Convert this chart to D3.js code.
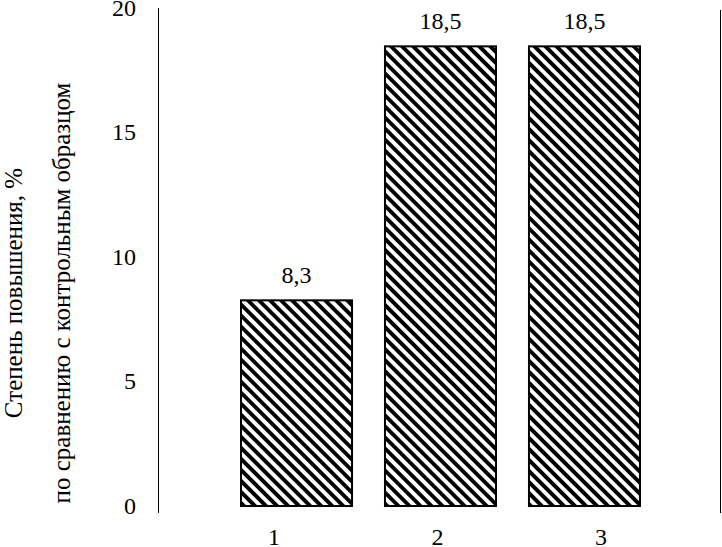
<!DOCTYPE html>
<html><head><meta charset="utf-8">
<script src="https://cdn.jsdelivr.net/npm/d3@7"></script>
</head><body style="margin:0;background:#fff">
<script>
const categories = ["1","2","3"];
const values = [8.3, 18.5, 18.5];
const valueLabels = ["8,3","18,5","18,5"];
const yTicks = [0,5,10,15,20];

const W=722,H=547;
const svg=d3.select("body").append("svg").attr("width",W).attr("height",H).style("display","block")
  .attr("font-family","Liberation Serif").style("font-family","'Liberation Serif', 'Times New Roman', serif");
const defs=svg.append("defs");
const pat=defs.append("pattern").attr("id","hatch").attr("patternUnits","userSpaceOnUse")
  .attr("width",7.8).attr("height",20).attr("patternTransform","rotate(-45)");
pat.append("rect").attr("width",7.8).attr("height",20).attr("fill","#fff");
pat.append("rect").attr("width",3.9).attr("height",20).attr("fill","#000");

const y=d3.scaleLinear().domain([0,20]).range([506,8]);
const x=d3.scaleBand().domain(categories).range([240,641]).paddingInner(0.215).paddingOuter(0);
const xl=d3.scalePoint().domain(categories).range([274,601]);

svg.append("line").attr("x1",158.5).attr("x2",158.5).attr("y1",8).attr("y2",513).attr("stroke","#000").attr("stroke-width",1);
svg.append("line").attr("x1",720.5).attr("x2",720.5).attr("y1",10).attr("y2",513).attr("stroke","#000").attr("stroke-width",1);

function serif(sel,size){
  return sel.attr("font-family","Liberation Serif").attr("font-size",size)
    .style("font-family","'Liberation Serif', 'Times New Roman', serif").style("font-size",size+"px");
}

const yAxis=d3.axisLeft(y).tickValues(yTicks).tickSize(0).tickPadding(0).tickFormat(d3.format("d"));
const ga=svg.append("g").attr("transform","translate(136,0)").call(yAxis);
ga.attr("font-family","Liberation Serif").attr("font-size",24);
ga.select(".domain").remove();
serif(ga.selectAll("text"),24).attr("fill","#000").attr("dy","0.3em");

svg.selectAll("rect.bar").data(values).join("rect").attr("class","bar")
  .attr("x",(d,i)=>x(categories[i])+1).attr("width",x.bandwidth()-2)
  .attr("y",d=>y(d)+1).attr("height",d=>y(0)-y(d)-1)
  .attr("fill","url(#hatch)").attr("stroke","#000").attr("stroke-width",2);

serif(svg.selectAll("text.val").data(values).join("text").attr("class","val")
  .attr("x",(d,i)=>x(categories[i])+x.bandwidth()/2).attr("y",d=>y(d)-16)
  .attr("text-anchor","middle"),24).text((d,i)=>valueLabels[i]);

serif(svg.selectAll("text.cat").data(categories).join("text").attr("class","cat")
  .attr("x",d=>xl(d)).attr("y",545).attr("text-anchor","middle"),24).text(d=>d);

const t=serif(svg.append("text").attr("transform","translate(0,293) rotate(-90)").attr("text-anchor","middle"),25);
t.append("tspan").attr("x",0).attr("y",22).text("Степень повышения, %");
t.append("tspan").attr("x",0).attr("y",70).text("по сравнению с контрольным образцом");
</script>
</body></html>
